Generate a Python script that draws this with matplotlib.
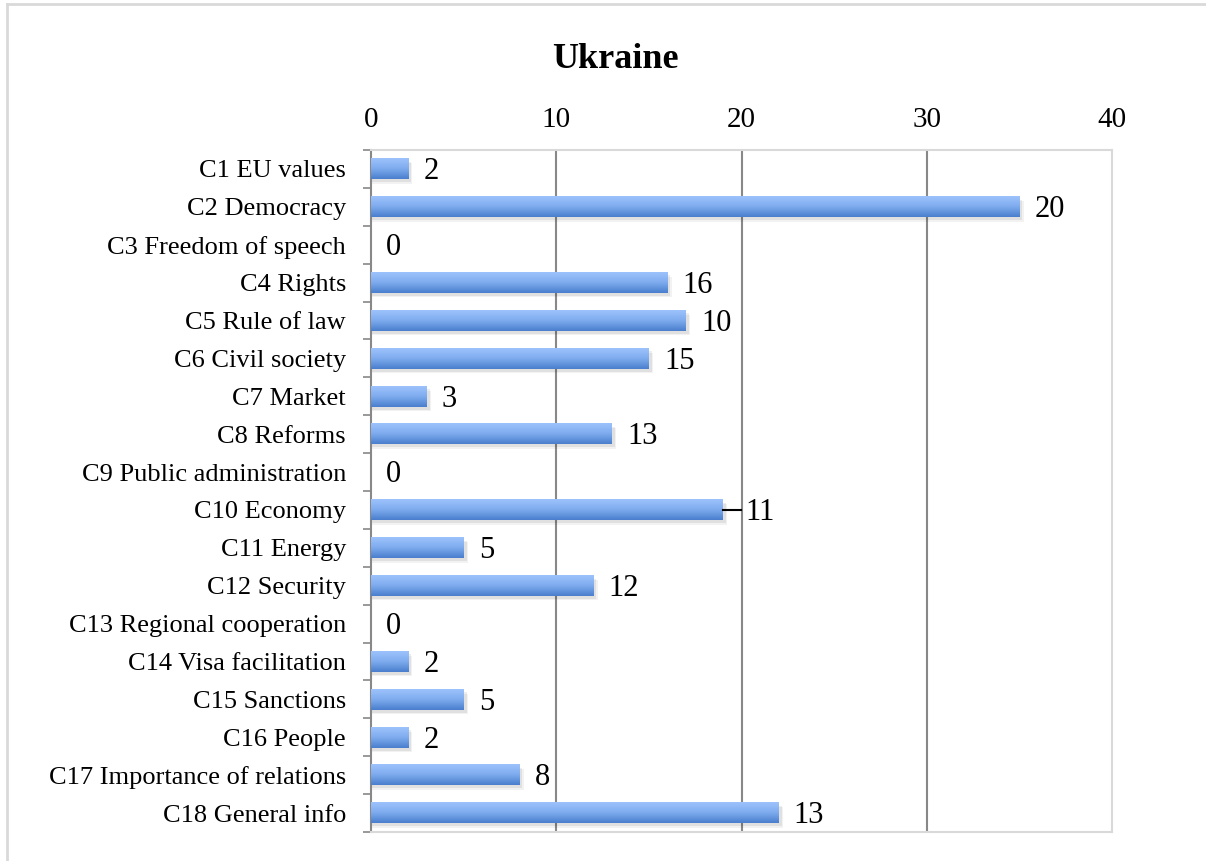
import numpy as np
import matplotlib.pyplot as plt
from matplotlib.lines import Line2D
from matplotlib.colors import LinearSegmentedColormap

categories = ["C1 EU values", "C2 Democracy", "C3 Freedom of speech", "C4 Rights",
              "C5 Rule of law", "C6 Civil society", "C7 Market", "C8 Reforms",
              "C9 Public administration", "C10 Economy", "C11 Energy", "C12 Security",
              "C13 Regional cooperation", "C14 Visa facilitation", "C15 Sanctions",
              "C16 People", "C17 Importance of relations", "C18 General info"]
# bar lengths as drawn on the axis
bar_lengths = [2, 35, 0, 16, 17, 15, 3, 13, 0, 19, 5, 12, 0, 2, 5, 2, 8, 22]
# numbers printed beside the bars
bar_labels = [2, 20, 0, 16, 10, 15, 3, 13, 0, 11, 5, 12, 0, 2, 5, 2, 8, 13]
x_ticks = [0, 10, 20, 30, 40]

plt.rcParams['font.family'] = ['Liberation Serif', 'DejaVu Serif']

fig = plt.figure(figsize=(12.06, 8.61), dpi=100)
ax = fig.add_axes([371 / 1206, 1 - 832 / 861, (1112 - 371) / 1206, (832 - 150) / 861])

n = len(categories)
y = np.arange(n)
h = 0.54
ax.set_xlim(0, 40)
ax.set_ylim(n - 0.5, -0.5)

# vertical gradient for bars (light top, darker bottom)
grad = np.linspace(0, 1, 64).reshape(-1, 1)
cmap = LinearSegmentedColormap.from_list("bar", ["#9dc3fc", "#7eabee", "#4a7fcd"])

for yi, v in zip(y, bar_lengths):
    if v <= 0:
        continue
    # soft shadow
    for k, a in [(0.12, 0.05), (0.08, 0.07)]:
        ax.barh(yi + k, v + k * 2, height=h, left=0, color="#000000", alpha=a,
                zorder=2, linewidth=0)
    ax.imshow(grad, cmap=cmap, aspect="auto", extent=(0, v, yi + h / 2, yi - h / 2),
              zorder=3, interpolation="bicubic")

for yi, v, lab in zip(y, bar_lengths, bar_labels):
    off = 11
    if lab == 11 and v == 19:
        # leader line from bar end to the gridline
        ax.plot([v, v + 0.95], [yi, yi], color="black", lw=1.5, zorder=4)
        off = 16
    ax.annotate(str(lab), xy=(v, yi), xytext=(off, -2), textcoords="offset points",
                ha="left", va="center", fontsize=22, zorder=5)

ax.set_yticks(y)
ax.set_yticklabels(categories, fontsize=19)
ax.set_yticks(np.arange(n + 1) - 0.5, minor=True)
ax.tick_params(axis="y", which="major", length=0, pad=18)
ax.tick_params(axis="y", which="minor", length=6, width=1.2, color="#888888", direction="out")

ax.xaxis.tick_top()
ax.set_xticks(x_ticks)
ax.set_xticklabels([str(t) for t in x_ticks], fontsize=21)
ax.tick_params(axis="x", length=0, pad=12)

for t in x_ticks[1:-1]:
    ax.axvline(t, color="#888888", lw=1.5, zorder=1)

ax.spines["left"].set_color("#888888")
ax.spines["left"].set_linewidth(1.5)
for s in ["top", "right", "bottom"]:
    ax.spines[s].set_color("#d9d9d9")
    ax.spines[s].set_linewidth(1.5)

fig.text(615 / 1206, 1 - 60 / 861, "Ukraine", fontsize=26, fontweight="bold",
         ha="center", va="center")

# outer frame of the chart area
fig.add_artist(Line2D([7 / 1206, 7 / 1206], [0, 1 - 4 / 861], color="#d9d9d9", lw=2,
                      transform=fig.transFigure))
fig.add_artist(Line2D([7 / 1206, 1], [1 - 4 / 861, 1 - 4 / 861], color="#d9d9d9", lw=2,
                      transform=fig.transFigure))

fig.savefig("out.png", dpi=100)
